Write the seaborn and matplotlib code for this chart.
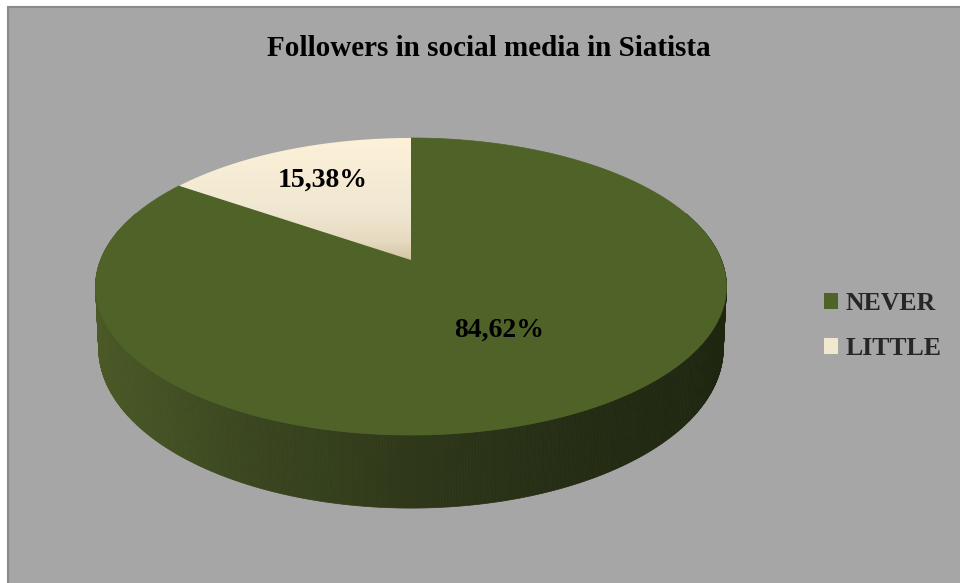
import numpy as np
import matplotlib
matplotlib.use("Agg")
import matplotlib.pyplot as plt
import seaborn as sns
from matplotlib.patches import Polygon, Rectangle, Patch
from matplotlib.collections import PolyCollection
from matplotlib.colors import to_rgb, LinearSegmentedColormap

# ---- data ----
categories = ["NEVER", "LITTLE"]
shares = [84.62, 15.38]
title = "Followers in social media in Siatista"
top_colors = ["#4F6228", "#F4EBD3"]

sns.set_theme(style="white")
plt.rcParams["font.family"] = ["Liberation Serif", "DejaVu Serif"]

W, H = 960, 583
fig = plt.figure(figsize=(W / 100, H / 100), dpi=100, facecolor="white")
ax = fig.add_axes([0, 0, 1, 1])
ax.set_xlim(0, W)
ax.set_ylim(H, 0)
ax.axis("off")

# chart area
ax.add_patch(Rectangle((8, 7), W, H, facecolor="#A6A6A6", edgecolor="#8A8A8A",
                       linewidth=1.5, zorder=0))

# ---- perspective disc: unit circle (X right, Z toward viewer) -> pixels ----
cx, cy = 411.0, 260.0      # projected centre of the top face
ax_r, bz_r = 310.4, 143.8  # horizontal / depth radii
persp = -0.1785            # perspective strength
depth0 = 60.0              # thickness of the disc


def project(X, Z, lower=False):
    w = 1.0 + persp * Z
    sx = cx + ax_r * X / w
    sy = cy + bz_r * Z / w
    if lower:
        sx = cx + (sx - cx) * 0.99
        sy = sy + depth0 / w
    return sx, sy


def arc(a0, a1, n=200, r=1.0, lower=False):
    # angles in degrees, clockwise from 12 o'clock
    t = np.radians(np.linspace(a0, a1, n))
    return project(r * np.sin(t), -r * np.cos(t), lower)


# slice angles from the shares
fracs = np.array(shares) / np.sum(shares)
edges = np.concatenate([[0.0], np.cumsum(fracs) * 360.0])

# ---- side wall (front part only) with a left-to-right shading ----
stops_x = [96, 250, 450, 600, 727]
stops_c = ["#4A5926", "#3A461F", "#2C3518", "#232B13", "#1E2610"]
stops_rgb = np.array([to_rgb(c) for c in stops_c])

n_side = 480
tx, ty = arc(70, 290, n_side + 1)
bx, by = arc(70, 290, n_side + 1, lower=True)
quads, cols = [], []
for i in range(n_side):
    q = [(tx[i], ty[i]), (tx[i + 1], ty[i + 1]), (bx[i + 1], by[i + 1]), (bx[i], by[i])]
    quads.append(q)
    mx = 0.5 * (tx[i] + tx[i + 1])
    cols.append([np.interp(mx, stops_x, stops_rgb[:, k]) for k in range(3)])
side = PolyCollection(quads, facecolors=cols, edgecolors=cols, linewidths=0.5, zorder=2)
ax.add_collection(side)

# ---- top faces ----
centre = project(0.0, 0.0)
slice_polys = []
for i, cat in enumerate(categories):
    sx, sy = arc(edges[i], edges[i + 1], 300)
    pts = np.column_stack([np.r_[centre[0], sx], np.r_[centre[1], sy]])
    slice_polys.append(pts)

never_poly = Polygon(slice_polys[0], closed=True, facecolor=top_colors[0],
                     edgecolor=top_colors[0], linewidth=0.5, zorder=3)
ax.add_patch(never_poly)

# LITTLE slice with a soft cream-to-tan gradient
little_clip = Polygon(slice_polys[1], closed=True, facecolor="none",
                      edgecolor="none", zorder=3)
ax.add_patch(little_clip)
cream = LinearSegmentedColormap.from_list(
    "cream", [(0.0, "#FDF1D8"), (0.6, "#F0E7D2"), (0.85, "#E6DAC0"), (1.0, "#D3C4A3")])
ys0, ys1 = slice_polys[1][:, 1].min(), slice_polys[1][:, 1].max()
xs0, xs1 = slice_polys[1][:, 0].min(), slice_polys[1][:, 0].max()
grad = np.linspace(0, 1, 256).reshape(-1, 1)
im = ax.imshow(grad, cmap=cream, extent=(xs0, xs1, ys1, ys0), origin="upper",
               aspect="auto", zorder=3, interpolation="bilinear")
im.set_clip_path(little_clip)
ax.set_xlim(0, W)
ax.set_ylim(H, 0)

# ---- value labels ----
label_r = [0.52, 0.70]
label_shift = [(6, -2), (3, 0)]
for i, v in enumerate(shares):
    mid = 0.5 * (edges[i] + edges[i + 1])
    r = label_r[i]
    lx, ly = project(r * np.sin(np.radians(mid)), -r * np.cos(np.radians(mid)))
    txt = f"{v:.2f}".replace(".", ",") + "%"
    ax.text(lx + label_shift[i][0], ly + label_shift[i][1], txt, ha="center", va="center",
            fontsize=20, fontweight="bold", color="black", zorder=5)

# ---- title ----
ax.text(489, 49, title, ha="center", va="center", fontsize=21,
        fontweight="bold", color="black", zorder=5)

# ---- legend ----
handles = [Patch(facecolor=c, edgecolor="none") for c in ["#4F6228", "#F2E8CF"]]
ax.legend(handles, categories, loc="center left", bbox_to_anchor=(824 / W, 1 - 326 / H),
          frameon=False, prop={"family": "Liberation Serif", "weight": "bold", "size": 18.5},
          handlelength=0.55, handleheight=0.55, handletextpad=0.3, labelspacing=0.85,
          borderpad=0, borderaxespad=0)

fig.savefig("out.png", dpi=100, facecolor="white")
